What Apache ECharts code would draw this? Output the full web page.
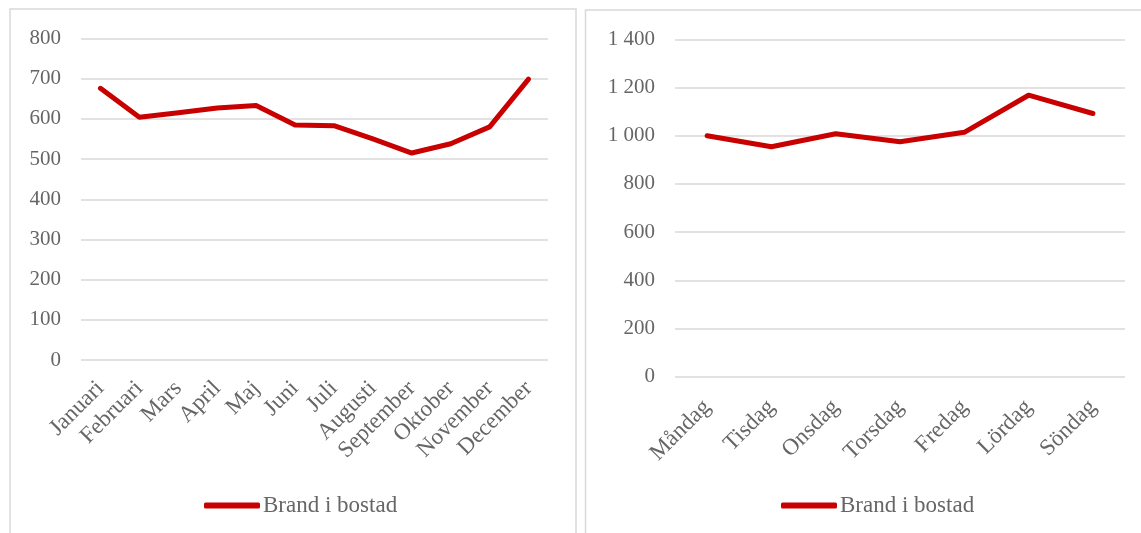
<!DOCTYPE html>
<html>
<head>
<meta charset="utf-8">
<script src="https://cdn.jsdelivr.net/npm/echarts@6/dist/echarts.min.js"></script>
<style>
  html, body { margin: 0; padding: 0; background: #fff; }
  #chart { width: 1141px; height: 533px; }
</style>
</head>
<body>
<div id="chart"></div>
<script>
// Bostadsbränder per månad och per veckodag
const months = ['Januari', 'Februari', 'Mars', 'April', 'Maj', 'Juni', 'Juli',
  'Augusti', 'September', 'Oktober', 'November', 'December'];
const monthValues = [676, 604, 615, 627, 633, 585, 583, 550, 515, 538, 580, 699];

const weekdays = ['Måndag', 'Tisdag', 'Onsdag', 'Torsdag', 'Fredag', 'Lördag', 'Söndag'];
const weekdayValues = [1000, 954, 1008, 975, 1014, 1168, 1092];

const seriesName = 'Brand i bostad';

const FONT = 'Liberation Serif';
const TEXT = '#666666';
const GRID = '#d9d9d9';
const RED = '#c80000';

// Swedish thousands separator: 1 400
const svNumber = v => String(v).replace(/\B(?=(\d{3})+(?!\d))/g, ' ');

const catAxis = (gridIndex, data, margin) => ({
  type: 'category',
  gridIndex,
  data,
  boundaryGap: true,
  axisLine: { show: false },
  axisTick: { show: false },
  axisLabel: {
    rotate: 45, interval: 0, margin,
    color: TEXT, fontFamily: FONT, fontSize: 23
  }
});

const valAxis = (gridIndex, max, interval) => ({
  type: 'value',
  gridIndex,
  min: 0, max, interval,
  axisLine: { show: false },
  axisTick: { show: false },
  splitLine: { lineStyle: { color: GRID, width: 1.5 } },
  axisLabel: {
    margin: 20, color: TEXT, fontFamily: FONT, fontSize: 21,
    formatter: svNumber
  }
});

const lineSeries = (idx, data) => ({
  name: seriesName,
  type: 'line',
  xAxisIndex: idx,
  yAxisIndex: idx,
  data,
  symbol: 'none',
  lineStyle: { color: RED, width: 5, cap: 'round', join: 'round' },
  itemStyle: { color: RED },
  animation: false
});

const legendCfg = (left) => ({
  left, top: 489,
  data: [{ name: seriesName, icon: 'roundRect' }],
  itemWidth: 56, itemHeight: 6,
  textStyle: { color: TEXT, fontFamily: FONT, fontSize: 23, padding: [0, 0, 0, -2] },
  selectedMode: false
});

const chart = echarts.init(document.getElementById('chart'), null, { renderer: 'canvas' });
chart.setOption({
  backgroundColor: '#ffffff',
  animation: false,
  graphic: [
    { type: 'rect', shape: { x: 10, y: 9, width: 566, height: 540 },
      style: { fill: 'none', stroke: GRID, lineWidth: 1.5 }, silent: true, z: -1 },
    { type: 'rect', shape: { x: 585.5, y: 10, width: 580, height: 540 },
      style: { fill: 'none', stroke: GRID, lineWidth: 1.5 }, silent: true, z: -1 }
  ],
  grid: [
    { left: 81, top: 38.5, width: 467, height: 321.5 },
    { left: 675, top: 39.3, width: 450, height: 337.4 }
  ],
  xAxis: [catAxis(0, months, 25), catAxis(1, weekdays, 27)],
  yAxis: [valAxis(0, 800, 100), valAxis(1, 1400, 200)],
  legend: [legendCfg(199), legendCfg(776)],
  series: [lineSeries(0, monthValues), lineSeries(1, weekdayValues)]
});
</script>
</body>
</html>
